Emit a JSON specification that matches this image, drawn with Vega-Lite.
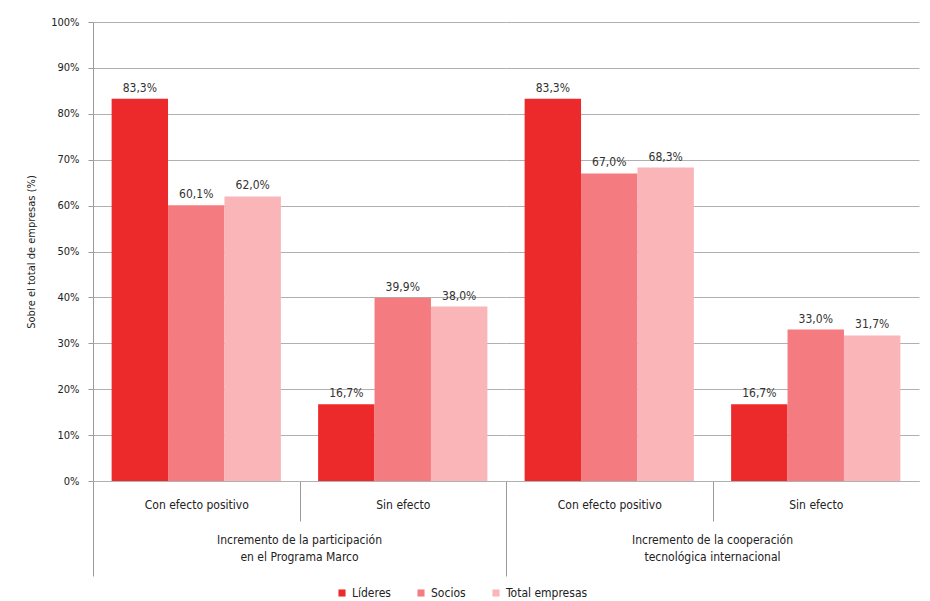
{
  "$schema": "https://vega.github.io/schema/vega-lite/v6.json",
  "background": "white",
  "padding": {"left": 25, "top": 16, "right": 3, "bottom": 2},
  "data": {"values": [
    {"group": "Incremento de la participación|en el Programa Marco", "cat": "Con efecto positivo", "serie": "Líderes", "v": 83.3},
    {"group": "Incremento de la participación|en el Programa Marco", "cat": "Con efecto positivo", "serie": "Socios", "v": 60.1},
    {"group": "Incremento de la participación|en el Programa Marco", "cat": "Con efecto positivo", "serie": "Total empresas", "v": 62.0},
    {"group": "Incremento de la participación|en el Programa Marco", "cat": "Sin efecto", "serie": "Líderes", "v": 16.7},
    {"group": "Incremento de la participación|en el Programa Marco", "cat": "Sin efecto", "serie": "Socios", "v": 39.9},
    {"group": "Incremento de la participación|en el Programa Marco", "cat": "Sin efecto", "serie": "Total empresas", "v": 38.0},
    {"group": "Incremento de la cooperación|tecnológica internacional", "cat": "Con efecto positivo", "serie": "Líderes", "v": 83.3},
    {"group": "Incremento de la cooperación|tecnológica internacional", "cat": "Con efecto positivo", "serie": "Socios", "v": 67.0},
    {"group": "Incremento de la cooperación|tecnológica internacional", "cat": "Con efecto positivo", "serie": "Total empresas", "v": 68.3},
    {"group": "Incremento de la cooperación|tecnológica internacional", "cat": "Sin efecto", "serie": "Líderes", "v": 16.7},
    {"group": "Incremento de la cooperación|tecnológica internacional", "cat": "Sin efecto", "serie": "Socios", "v": 33.0},
    {"group": "Incremento de la cooperación|tecnológica internacional", "cat": "Sin efecto", "serie": "Total empresas", "v": 31.7}
  ]},
  "transform": [
    {"calculate": "replace(format(datum.v, '.1f'), '.', ',') + '%'", "as": "lbl"}
  ],
  "facet": {
    "column": {
      "field": "group", "type": "nominal",
      "sort": ["Incremento de la participación|en el Programa Marco", "Incremento de la cooperación|tecnológica internacional"],
      "header": {
        "title": null,
        "labelOrient": "bottom",
        "labelExpr": "split(datum.value, '|')",
        "labelFontSize": 12,
        "labelColor": "#222222",
        "labelLineHeight": 17,
        "labelPadding": -70
      }
    }
  },
  "spacing": 0,
  "bounds": "flush",
  "spec": {
    "width": 413,
    "height": 459,
    "encoding": {
      "x": {
        "field": "cat", "type": "nominal",
        "sort": ["Con efecto positivo", "Sin efecto"],
        "scale": {"paddingInner": 0, "paddingOuter": 0},
        "axis": {
          "title": null,
          "labelAngle": 0,
          "tickBand": "extent",
          "domainColor": "#9a9a9a",
          "tickColor": "#9a9a9a",
          "tickSize": {"condition": [
            {"test": "datum.value === 'Con efecto positivo'", "value": 40},
            {"test": "datum.value === 'Sin efecto'", "value": 0}
          ], "value": 95},
          "labelPadding": {"condition": {"test": "datum.value === 'Con efecto positivo'", "value": -22}, "value": 18},
          "labelFontSize": 12,
          "labelColor": "#222222"
        }
      },
      "xOffset": {
        "field": "serie", "type": "nominal",
        "sort": ["Líderes", "Socios", "Total empresas"],
        "scale": {"paddingInner": 0, "paddingOuter": 0.33}
      },
      "y": {
        "field": "v", "type": "quantitative",
        "scale": {"domain": [0, 100]},
        "axis": {
          "title": "Sobre el total de empresas (%)",
          "titleFontWeight": "normal",
          "titleFontSize": 11,
          "titleColor": "#222222",
          "titlePadding": 14,
          "values": [0, 10, 20, 30, 40, 50, 60, 70, 80, 90, 100],
          "labelExpr": "datum.value + '%'",
          "labelOverlap": false,
          "labelFontSize": 11,
          "labelColor": "#222222",
          "labelPadding": 9,
          "domainColor": "#9a9a9a",
          "tickColor": "#9a9a9a",
          "gridColor": "#b0b0b0"
        }
      }
    },
    "layer": [
      {
        "mark": {"type": "bar"},
        "encoding": {
          "color": {
            "field": "serie", "type": "nominal",
            "sort": ["Líderes", "Socios", "Total empresas"],
            "scale": {"domain": ["Líderes", "Socios", "Total empresas"], "range": ["#ec2a2c", "#f47c81", "#f9b5b8"]},
            "legend": {
              "title": null,
              "orient": "none",
              "legendX": 243,
              "legendY": 565,
              "direction": "horizontal",
              "symbolType": "square",
              "symbolSize": 50,
              "labelFontSize": 12,
              "labelColor": "#222222",
              "columnPadding": 24,
              "symbolStrokeWidth": 0
            }
          }
        }
      },
      {
        "mark": {"type": "text", "dy": -11, "fontSize": 12, "color": "#333333"},
        "encoding": {"text": {"field": "lbl"}}
      }
    ]
  },
  "config": {
    "view": {"stroke": null},
    "font": "DejaVu Sans Condensed, DejaVu Sans"
  }
}
